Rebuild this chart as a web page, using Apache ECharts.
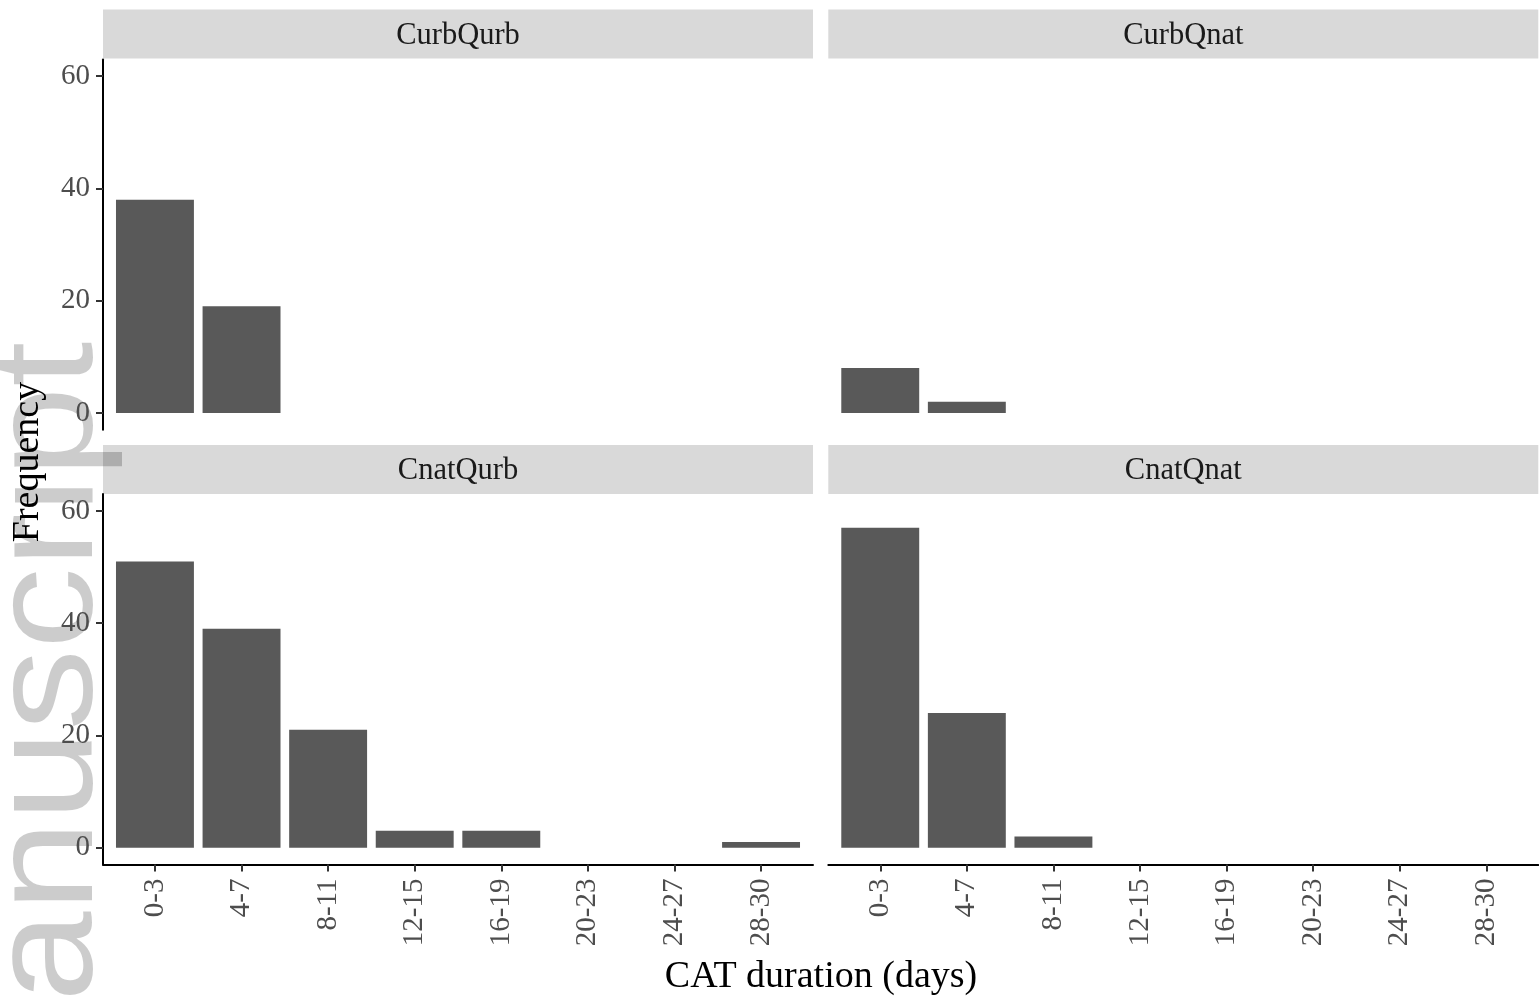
<!DOCTYPE html>
<html>
<head>
<meta charset="utf-8">
<script src="https://cdn.jsdelivr.net/npm/echarts@6/dist/echarts.min.js"></script>
<style>
html,body{margin:0;padding:0;background:#fff;}
#chart{width:1539px;height:1000px;}
</style>
</head>
<body>
<div id="chart"></div>
<script>
const categories = ['0-3','4-7','8-11','12-15','16-19','20-23','24-27','28-30'];
const panelNames = ['CurbQurb','CurbQnat','CnatQurb','CnatQnat'];
const curbQurb = [38,19,0,0,0,0,0,0];
const curbQnat = [8,2,0,0,0,0,0,0];
const cnatQurb = [51,39,21,3,3,0,0,1];
const cnatQnat = [57,24,2,0,0,0,0,0];
const yTicks = [0,20,40,60];
const panelValues = [curbQurb, curbQnat, cnatQurb, cnatQnat];

const chart = echarts.init(document.getElementById('chart'));
const SERIF = '"Liberation Serif","Times New Roman",serif';
const colL = [103, 828.3];
const rowT = [59.4, 494.1];
const panelW = 710, panelH = 370.4;
const stripT = [9.6, 445];
const stripH = 49;
const xMin = -0.6, xMax = categories.length - 1 + 0.6;
const unitPx = panelW / (xMax - xMin);

const grids = [], xAxes = [], yAxes = [], series = [], graphics = [];
for (let p = 0; p < 4; p++) {
  const c = p % 2, r = Math.floor(p / 2);
  grids.push({left: colL[c], top: rowT[r], width: panelW, height: panelH, containLabel: false});
  xAxes.push({
    type: 'value', gridIndex: p, min: xMin, max: xMax,
    show: r === 1, z: 5,
    axisLine: {show: true, onZero: false, lineStyle: {color: '#000', width: 2}},
    axisTick: {show: true, length: 7, lineStyle: {color: '#333', width: 2},
      customValues: categories.map((_, i) => i)},
    axisLabel: {show: true, rotate: 90, margin: 14, fontFamily: SERIF, fontSize: 29, color: '#4d4d4d',
      customValues: categories.map((_, i) => i),
      formatter: v => categories[Math.round(v)]},
    splitLine: {show: false}
  });
  yAxes.push({
    type: 'value', gridIndex: p, min: -3, max: 63,
    show: c === 0, z: 5,
    axisLine: {show: true, onZero: false, lineStyle: {color: '#000', width: 2}},
    axisTick: {show: true, length: 7, lineStyle: {color: '#333', width: 2}, customValues: yTicks},
    axisLabel: {show: true, margin: 13, fontFamily: SERIF, fontSize: 29, color: '#4d4d4d', customValues: yTicks},
    splitLine: {show: false}
  });
  series.push({
    type: 'bar', xAxisIndex: p, yAxisIndex: p,
    barWidth: 0.9 * unitPx,
    itemStyle: {color: '#595959'},
    data: panelValues[p].map((v, i) => [i, v]),
    silent: true, animation: false, z: 2
  });
  graphics.push({
    type: 'rect', z: 0,
    shape: {x: colL[c], y: stripT[r], width: panelW, height: stripH},
    style: {fill: '#d9d9d9'}
  });
  graphics.push({
    type: 'text', z: 10,
    x: colL[c] + panelW / 2, y: stripT[r] + stripH / 2 + 1.5,
    style: {text: panelNames[p], font: '30.5px ' + SERIF, fill: '#1a1a1a', textAlign: 'center', textVerticalAlign: 'middle'}
  });
}
// watermark
graphics.push({
  type: 'text', z: 1,
  x: 52, y: 1002, rotation: Math.PI / 2, scaleX: 1.115,
  style: {text: 'anuscript', font: '146px "Liberation Sans",Arial,sans-serif', fill: 'rgba(0,0,0,0.2)', textAlign: 'left', textVerticalAlign: 'middle'}
});
graphics.push({
  type: 'text', z: 10,
  x: 28, y: 462, rotation: Math.PI / 2,
  style: {text: 'Frequency', font: '38px ' + SERIF, fill: '#000', textAlign: 'center', textVerticalAlign: 'middle'}
});
graphics.push({
  type: 'text', z: 10,
  x: 821, y: 977,
  style: {text: 'CAT duration (days)', font: '38px ' + SERIF, fill: '#000', textAlign: 'center', textVerticalAlign: 'middle'}
});

chart.setOption({
  animation: false,
  backgroundColor: '#fff',
  grid: grids, xAxis: xAxes, yAxis: yAxes, series: series,
  graphic: {elements: graphics}
});
</script>
</body>
</html>
